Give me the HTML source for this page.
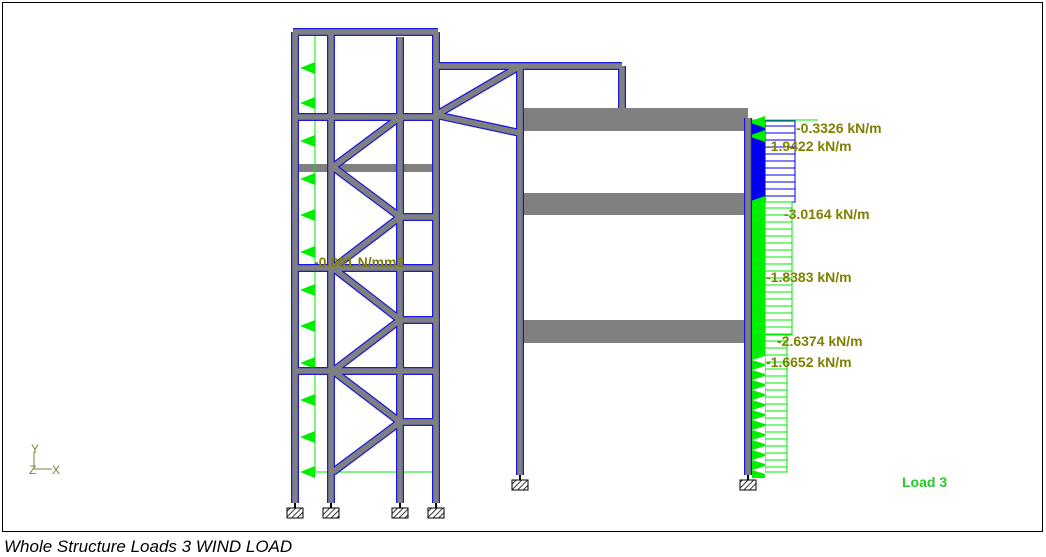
<!DOCTYPE html>
<html><head><meta charset="utf-8">
<style>
html,body{margin:0;padding:0;background:#fff;width:1046px;height:557px;overflow:hidden}
svg{display:block}
.lbl{font-family:"Liberation Sans",sans-serif;font-weight:bold;font-size:14px;fill:#808000}
</style></head><body>
<svg id="s" width="1046" height="557" viewBox="0 0 1046 557">
<defs>
<pattern id="h" width="4" height="4" patternUnits="userSpaceOnUse" patternTransform="rotate(45)">
<rect width="4" height="4" fill="#fff"/><line x1="0" y1="0" x2="0" y2="4" stroke="#000" stroke-width="1.6"/></pattern>
</defs>
<rect x="2.5" y="2.5" width="1040" height="529" fill="#fff" stroke="#000" stroke-width="1"/>
<g id="slabs" fill="#808080">
<rect x="520" y="108" width="228" height="23"/>
<rect x="520" y="193" width="228" height="22"/>
<rect x="520" y="320" width="228" height="23"/>
<rect x="295" y="164" width="141" height="8"/>
</g>
<g id="loads"></g>
<g id="mem"></g>
<g id="sup"></g>
<text class="lbl" x="314" y="267">-0.001 N/mm2</text>
<text class="lbl" x="796" y="133">-0.3326 kN/m</text>
<text class="lbl" x="766" y="151">-1.9422 kN/m</text>
<text class="lbl" x="784" y="219">-3.0164 kN/m</text>
<text class="lbl" x="766" y="282">-1.8383 kN/m</text>
<text class="lbl" x="777" y="346">-2.6374 kN/m</text>
<text class="lbl" x="766" y="367">-1.6652 kN/m</text>
<text x="902" y="487" font-family="Liberation Sans,sans-serif" font-weight="bold" font-size="14" fill="#22cc22">Load 3</text>
<g stroke="#808040" stroke-width="1" fill="none"><line x1="34" y1="452" x2="34" y2="469"/><line x1="34" y1="469" x2="52" y2="469"/></g>
<text x="31" y="453" font-family="Liberation Sans,sans-serif" font-size="12" fill="#808040">Y</text>
<text x="29" y="474" font-family="Liberation Sans,sans-serif" font-size="12" fill="#808040">Z</text>
<text x="52" y="474" font-family="Liberation Sans,sans-serif" font-size="12" fill="#808040">X</text>
<text x="4" y="552" font-family="Liberation Sans,sans-serif" font-style="italic" font-size="17" fill="#000">Whole Structure Loads  3 WIND LOAD</text>
</svg>
<script>
var NS="http://www.w3.org/2000/svg";
function el(p,t,a){var e=document.createElementNS(NS,t);for(var k in a)e.setAttribute(k,a[k]);document.getElementById(p).appendChild(e);return e;}
var M=[[295,32,295,503],[331,32,331,503],[400,37,400,503],[436,32,436,503],
[293,32,438,32],[295,117,436,117],[400,217,436,217],[295,268,436,268],[400,320,436,320],[295,371,436,371],[400,422,436,422],
[333,167,400,117],[333,167,400,217],[400,217,333,268],[333,268,400,320],[400,320,333,371],[333,371,400,422],[400,422,333,472],
[436,66,622,66],[622,66,622,108],[520,66,520,475],[436,115,520,66],[436,115,520,133],[748,118,748,475]];
M.forEach(function(m){el("mem","line",{x1:m[0],y1:m[1],x2:m[2],y2:m[3],stroke:"#1a1adc","stroke-width":8,"stroke-linecap":"butt"});});
M.forEach(function(m){el("mem","line",{x1:m[0],y1:m[1],x2:m[2],y2:m[3],stroke:"#808080","stroke-width":5.5});});
[[295,513],[331,513],[400,513],[436,513],[520,485],[748,485]].forEach(function(p){
el("sup","line",{x1:p[0],y1:p[1]-10,x2:p[0],y2:p[1]-5,stroke:"#000","stroke-width":2});
el("sup","rect",{x:p[0]-8,y:p[1]-5,width:16,height:10,fill:"url(#h)",stroke:"#000","stroke-width":1});});
var G="#00ee00";
el("loads","polyline",{points:"315,32 315,472 436,472 436,32",fill:"none",stroke:G,"stroke-width":1});
[68,103,141,179,215,252,290,326,363,400,437,472].forEach(function(y){
el("loads","polygon",{points:"300,"+y+" 315,"+(y-6)+" 315,"+(y+6),fill:G});});
el("loads","rect",{x:752,y:120,width:13,height:82,fill:"#0000ee"});
el("loads","rect",{x:765,y:121,width:30,height:81,fill:"none",stroke:"#0000ee","stroke-width":1});
for(var y=126;y<202;y+=7)el("loads","line",{x1:765,y1:y,x2:795,y2:y,stroke:"#0000ee","stroke-width":1});
el("loads","rect",{x:752,y:202,width:13,height:276,fill:G});
el("loads","rect",{x:765,y:202,width:27,height:133,fill:"none",stroke:G,"stroke-width":1});
el("loads","rect",{x:765,y:335,width:22,height:137,fill:"none",stroke:G,"stroke-width":1});
for(var y=208;y<472;y+=7)el("loads","line",{x1:765,y1:y,x2:(y<335?792:787),y2:y,stroke:G,"stroke-width":1});
el("loads","line",{x1:752,y1:120,x2:818,y2:120,stroke:G,"stroke-width":1});
[122,136,202,268,333,350].forEach(function(y){el("loads","polygon",{points:"748,"+y+" 765,"+(y-6)+" 765,"+(y+6),fill:G});});
for(var y=360;y<478;y+=10)el("loads","polygon",{points:"752,"+y+" 765,"+(y-4)+" 765,"+(y+4),fill:"#fff",stroke:"none"});
</script>
</body></html>
